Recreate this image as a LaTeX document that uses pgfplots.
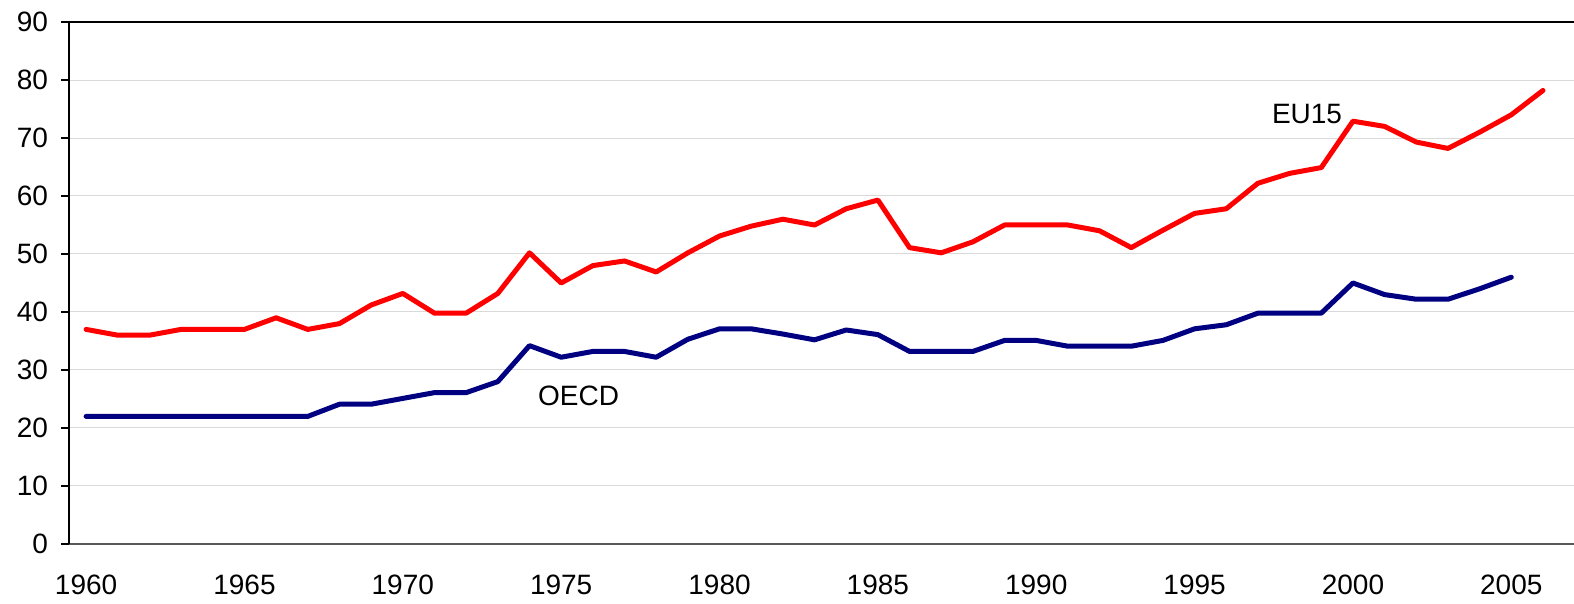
\documentclass[border=0pt]{standalone}
\usepackage{fontspec}
\setmainfont{Liberation Sans}
\usepackage{pgfplots}
\usepackage{pgfplotstable}
\pgfplotsset{compat=1.18}
\pgfplotstableread{
year val
1960 37
1961 36
1962 36
1963 37
1964 37
1965 37
1966 39
1967 37
1968 38
1969 41.2
1970 43.2
1971 39.8
1972 39.8
1973 43.2
1974 50.2
1975 45
1976 48
1977 48.8
1978 46.9
1979 50.2
1980 53.1
1981 54.8
1982 56
1983 55
1984 57.8
1985 59.3
1986 51.1
1987 50.2
1988 52.1
1989 55
1990 55
1991 55
1992 54
1993 51.1
1994 54.1
1995 57
1996 57.8
1997 62.2
1998 63.9
1999 64.9
2000 72.9
2001 72
2002 69.3
2003 68.2
2004 71
2005 74
2006 78.2
}\eu
\pgfplotstableread{
year val
1960 22
1961 22
1962 22
1963 22
1964 22
1965 22
1966 22
1967 22
1968 24.1
1969 24.1
1970 25.1
1971 26.1
1972 26.1
1973 28
1974 34.2
1975 32.2
1976 33.2
1977 33.2
1978 32.2
1979 35.3
1980 37.1
1981 37.1
1982 36.2
1983 35.2
1984 36.9
1985 36.1
1986 33.2
1987 33.2
1988 33.2
1989 35.1
1990 35.1
1991 34.1
1992 34.1
1993 34.1
1994 35.1
1995 37.1
1996 37.8
1997 39.8
1998 39.8
1999 39.8
2000 45
2001 43
2002 42.2
2003 42.2
2004 44
2005 46
}\oecd
\definecolor{eured}{RGB}{255,0,0}
\definecolor{oecdblue}{RGB}{0,0,128}
\begin{document}
\begin{tikzpicture}
\useasboundingbox (-34.5pt,-30pt) rectangle (752.5pt,272pt);
\begin{axis}[
  at={(0,0)}, anchor=south west,
  scale only axis, width=752.5pt, height=261pt,
  xmin=1959.46, xmax=2006.98, ymin=0, ymax=90,
  axis line style={draw=none},
  xtick={1960,1965,...,2005},
  ytick={0,10,...,90},
  ymajorgrids,
  grid style={draw=black!15, line width=0.5pt},
  tick align=outside,
  ytick pos=left, xtick pos=bottom,
  major tick length=4pt,
  xtick style={draw=none},
  ytick style={draw=black, line width=0.6pt},
  ticklabel style={font=\fontsize{14}{16}\selectfont},
  /pgf/number format/assume math mode=true,
  /pgf/number format/1000 sep={},
  xticklabel style={yshift=-8pt},
  yticklabel style={xshift=-3pt},
  clip=false,
]
\draw[black!65, line width=0.7pt] (rel axis cs:0,0) -- (rel axis cs:1,0);
\draw[black, line width=0.7pt] (rel axis cs:0,0) -- (rel axis cs:0,1) -- (rel axis cs:1,1);
\addplot[eured, line width=2.5pt, line join=round, line cap=round] table[x=year,y=val] {\eu};
\addplot[oecdblue, line width=2.5pt, line join=round, line cap=round] table[x=year,y=val] {\oecd};
\node[font=\fontsize{14}{16}\selectfont] at (axis cs:1998.55,74.1) {EU15};
\node[font=\fontsize{14}{16}\selectfont] at (axis cs:1975.55,25.5) {OECD};
\end{axis}
\end{tikzpicture}
\end{document}
